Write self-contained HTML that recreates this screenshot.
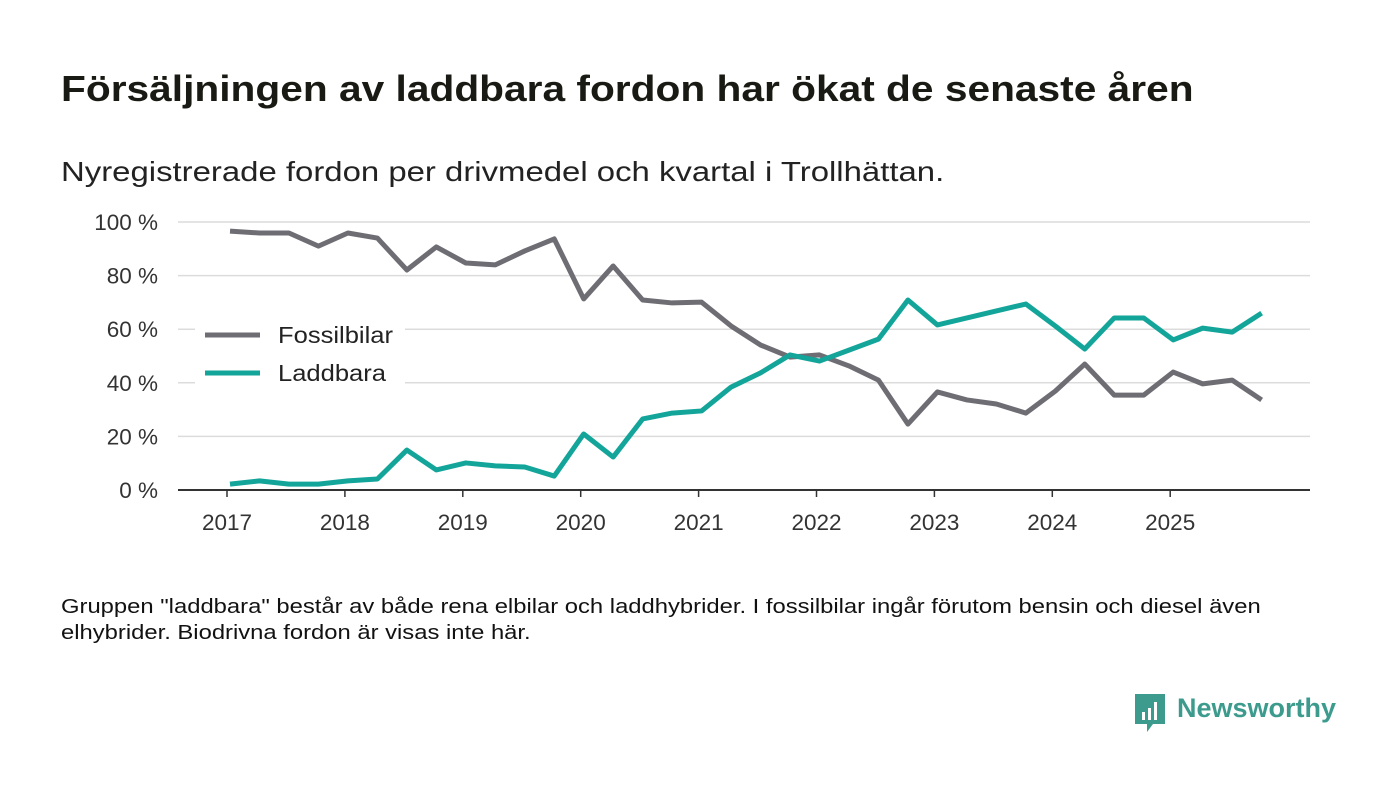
<!DOCTYPE html>
<html><head><meta charset="utf-8">
<style>
body{margin:0;width:1400px;height:793px;background:#fff;font-family:"Liberation Sans",sans-serif;overflow:hidden;position:relative;color:#111}
.t{position:absolute;white-space:nowrap;transform-origin:left top}
</style></head><body>
<div class="t" style="left:61px;top:68px;font-size:36px;font-weight:bold;color:#1a1a14;transform:scaleX(1.13)">Försäljningen av laddbara fordon har ökat de senaste åren</div>
<div class="t" style="left:61px;top:156px;font-size:28px;color:#222;transform:scaleX(1.175)">Nyregistrerade fordon per drivmedel och kvartal i Trollhättan.</div>
<svg id="chart" width="1400" height="560" style="position:absolute;left:0;top:0"></svg>
<div class="t" style="left:61px;top:594px;font-size:20px;line-height:26px;color:#111;transform:scaleX(1.19)">Gruppen "laddbara" består av både rena elbilar och laddhybrider. I fossilbilar ingår förutom bensin och diesel även<br>elhybrider. Biodrivna fordon är visas inte här.</div>
<div style="position:absolute;left:1133px;top:692px;width:210px;height:42px">
<svg width="34" height="42" style="position:absolute;left:0;top:0"><path d="M2 2h30v30H20l-6 8v-8H2z" fill="#3d9b8e"/><rect x="9" y="20" width="3" height="8" fill="#fff"/><rect x="15" y="16" width="3" height="12" fill="#fff"/><rect x="21" y="10" width="3" height="18" fill="#fff"/></svg>
<div class="t" style="left:44px;top:1px;font-size:27px;font-weight:bold;color:#3d9b8e">Newsworthy</div></div>
<script>
const years=["2017","2018","2019","2020","2021","2022","2023","2024","2025"];
const yTicks=[0,20,40,60,80,100];
const fossil=[96.6,95.9,95.9,91.0,95.9,94.0,82.1,90.7,84.7,84.0,89.2,93.7,71.3,83.6,70.9,69.8,70.1,61.2,54.1,49.6,50.4,46.3,41.0,24.6,36.6,33.6,32.1,28.7,36.9,47.0,35.4,35.4,44.0,39.6,41.0,33.6];
const laddbara=[2.2,3.4,2.2,2.2,3.4,4.1,14.9,7.5,10.1,9.0,8.6,5.2,20.9,12.3,26.5,28.7,29.5,38.4,43.7,50.4,48.1,52.2,56.3,70.9,61.6,64.2,66.8,69.4,61.2,52.6,64.2,64.2,56.0,60.4,58.9,66.0];
const svg=document.getElementById('chart');const NS='http://www.w3.org/2000/svg';
const x0=230,yearW=117.9,y0=490,pxPer=2.68;
const xq=i=>x0+i*yearW/4;const yv=v=>y0-v*pxPer;
function mk(t,a){const e=document.createElementNS(NS,t);for(const k in a)e.setAttribute(k,a[k]);svg.appendChild(e);return e;}
yTicks.forEach(v=>{
 if(v>0){const g=mk('line',{x1:178,x2:1310,y1:yv(v),y2:yv(v),stroke:'#dcdcdc','stroke-width':1.5});
 
 }
 const t=mk('text',{x:158,y:yv(v)+8,'text-anchor':'end','font-size':22.5,fill:'#333','font-family':'Liberation Sans, sans-serif'});t.textContent=v+' %';
 
 
});
const ax=mk('line',{x1:178,x2:1310,y1:y0,y2:y0,stroke:'#333','stroke-width':2});


years.forEach((y,i)=>{const x=xq(i*4)-3;
 const tk=mk('line',{x1:x,x2:x,y1:y0,y2:y0+7,stroke:'#333','stroke-width':1.5});
 
 
 const t=mk('text',{x:x,y:530,'text-anchor':'middle','font-size':22.5,fill:'#333','font-family':'Liberation Sans, sans-serif'});t.textContent=y;
 
 
});
function line(d,c,n){const p=mk('polyline',{points:d.map((v,i)=>xq(i)+','+yv(v)).join(' '),fill:'none',stroke:c,'stroke-width':5,'stroke-linejoin':'round'});
 
 }
line(fossil,'#6e6d74','fossilbilar-line');
line(laddbara,'#13a59a','laddbara-line');
const lb=mk('rect',{x:195,y:315,width:210,height:80,fill:'#fff'});


[['Fossilbilar','#6e6d74',335],['Laddbara','#13a59a',373]].forEach(([n,c,y])=>{
 const l=mk('line',{x1:205,x2:260,y1:y,y2:y,stroke:c,'stroke-width':5});
 
 
 const t=mk('text',{x:278,y:y+8,'font-size':23,fill:'#222','font-family':'Liberation Sans, sans-serif','textLength':n==='Fossilbilar'?115:108,'lengthAdjust':'spacingAndGlyphs'});t.textContent=n;
 
 
});
</script>
</body></html>
